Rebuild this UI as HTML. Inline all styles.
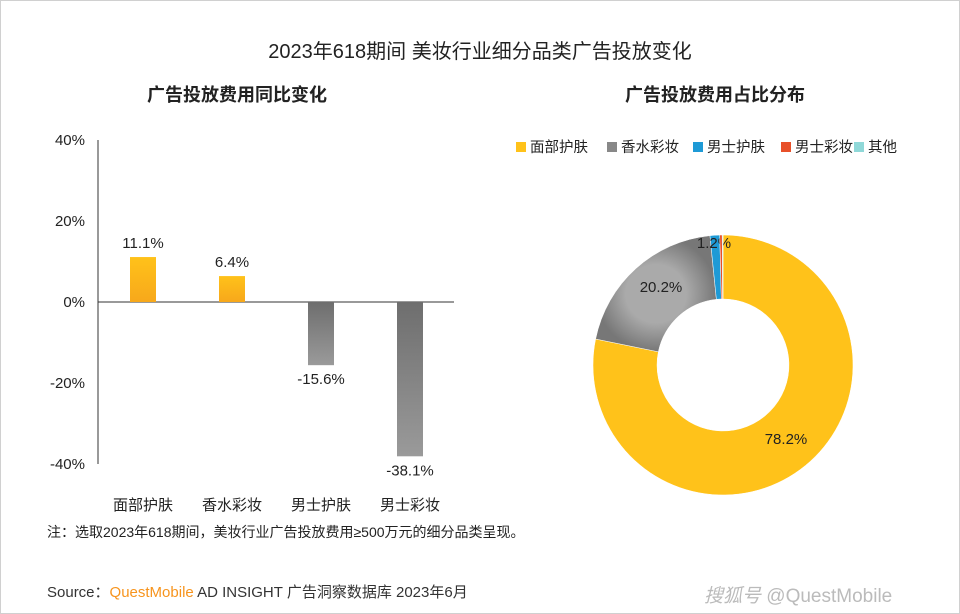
<!DOCTYPE html>
<html><head><meta charset="utf-8"><style>
body{margin:0;background:#fff;font-family:"Liberation Sans","Noto Sans CJK SC",sans-serif;}
#wrap{position:relative;width:958px;height:612px;border:1px solid #d0d0d0;overflow:hidden;}
.t{position:absolute;white-space:nowrap;color:#222;}
</style></head><body>
<div id="wrap">
<div class="t" style="left:0;width:958px;text-align:center;top:34px;font-size:20px;">2023年618期间 美妆行业细分品类广告投放变化</div>
<div class="t" style="left:146px;top:80px;font-size:18px;font-weight:bold;">广告投放费用同比变化</div>
<div class="t" style="left:624px;top:80px;font-size:18px;font-weight:bold;">广告投放费用占比分布</div>
<svg id="svg" width="958" height="612" style="position:absolute;left:0;top:0">
<defs>
<linearGradient id="gy" x1="0" y1="0" x2="0" y2="1"><stop offset="0" stop-color="#ffc21a"/><stop offset="1" stop-color="#f7a81b"/></linearGradient>
<linearGradient id="gg" x1="0" y1="0" x2="0" y2="1"><stop offset="0" stop-color="#6e6e6e"/><stop offset="1" stop-color="#9a9a9a"/></linearGradient>
<radialGradient id="pg" cx="0.5" cy="0.5" r="0.5"><stop offset="0.5" stop-color="#aaa"/><stop offset="1" stop-color="#777"/></radialGradient>
</defs>
</svg>
<div class="t" style="left:46px;top:521px;font-size:14px;">注：选取2023年618期间，美妆行业广告投放费用≥500万元的细分品类呈现。</div>
<div class="t" style="left:46px;top:580px;font-size:15px;color:#333;">Source：<span style="color:#f7941d">QuestMobile</span> AD INSIGHT 广告洞察数据库 2023年6月</div>
<div class="t" style="left:703px;top:580px;font-size:19px;color:#bbb;"><i>搜狐号</i> @QuestMobile</div>
</div>
<script>
const categories=["面部护肤","香水彩妆","男士护肤","男士彩妆"];
const yoyValues=[11.1,6.4,-15.6,-38.1];
const yTicks=[40,20,0,-20,-40];
const pieLabels=["面部护肤","香水彩妆","男士护肤","男士彩妆","其他"];
const pieValues=[78.2,20.2,1.2,0.3,0.1];
const pieColors=["#ffc21a","url(#pg)","#1e9ad6","#e8502a","#8fd8d8"];
const ns="http://www.w3.org/2000/svg";
const svg=document.getElementById('svg');
function mk(tag,attrs,parent){const e=document.createElementNS(ns,tag);for(const k in attrs)e.setAttribute(k,attrs[k]);(parent||svg).appendChild(e);return e;}
const y0=301,pxPer=162/40;
const yScale=v=>y0-v*pxPer;
const xScale=i=>142+i*89;
const ax=mk('line',{x1:97,x2:97,y1:139,y2:463,stroke:'#333','stroke-width':1});


yTicks.forEach(v=>{const t=mk('text',{x:84,y:yScale(v)+5,'text-anchor':'end','font-size':15,fill:'#222','font-family':'Liberation Sans'});t.textContent=v+'%';

});
const base=mk('line',{x1:97,x2:453,y1:y0,y2:y0,stroke:'#333','stroke-width':1});


categories.forEach((c,i)=>{const v=yoyValues[i];const x=xScale(i);
const top=Math.min(yScale(v),y0),h=Math.abs(yScale(v)-y0);
const r=mk('rect',{x:x-13,y:top,width:26,height:h,fill:v>=0?'url(#gy)':'url(#gg)'});


const ly=v>=0?yScale(v)-9:yScale(v)+19;
const l=mk('text',{x:x,y:ly,'text-anchor':'middle','font-size':15,fill:'#222','font-family':'Liberation Sans'});l.textContent=v.toFixed(1)+'%';


const cl=mk('text',{x:x,y:509,'text-anchor':'middle','font-size':15,fill:'#222','font-family':'Liberation Sans, Noto Sans CJK SC'});cl.textContent=c;

});
// legend
const lx=[515,606,692,780,853];
pieLabels.forEach((n,i)=>{const g=mk('g',{});


mk('rect',{x:lx[i],y:141,width:10,height:10,fill:i==1?'#888':pieColors[i]},g);
const t=mk('text',{x:lx[i]+14,y:151,'font-size':14.5,fill:'#222','font-family':'Liberation Sans, Noto Sans CJK SC'},g);t.textContent=n;});
// donut
const cx=722,cy=364,R=130,r0=66;
const total=pieValues.reduce((a,b)=>a+b,0);
let a=0;
const pt=(ang,rad)=>[cx+rad*Math.sin(ang),cy-rad*Math.cos(ang)];
pieValues.forEach((v,i)=>{const a1=a+v/total*2*Math.PI;const lg=(a1-a)>Math.PI?1:0;
const p1=pt(a,R),p2=pt(a1,R),p3=pt(a1,r0),p4=pt(a,r0);
const p=mk('path',{d:`M${p1} A${R},${R} 0 ${lg} 1 ${p2} L${p3} A${r0},${r0} 0 ${lg} 0 ${p4}Z`,fill:pieColors[i],stroke:'#fff','stroke-width':0.5});


if(i<3){let lp;
if(i==0)lp=[785,443];if(i==1)lp=[660,291];if(i==2)lp=[713,247];
const t=mk('text',{x:lp[0],y:lp[1],'text-anchor':'middle','font-size':15,fill:'#222','font-family':'Liberation Sans'});t.textContent=v.toFixed(1)+'%';

}
a=a1;});
</script>
</body></html>
